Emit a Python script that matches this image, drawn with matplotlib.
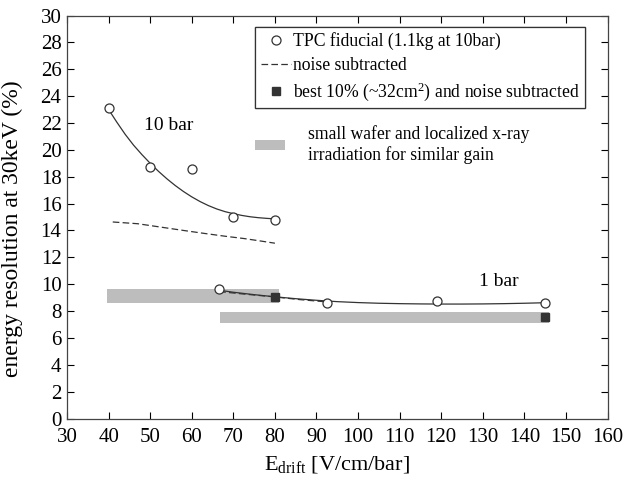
import matplotlib
matplotlib.use("Agg")
import matplotlib.pyplot as plt
from matplotlib.patches import Rectangle
from matplotlib.lines import Line2D

plt.rcParams['font.family'] = ['Liberation Serif', 'DejaVu Serif']
plt.rcParams['mathtext.fontset'] = 'custom'
plt.rcParams['mathtext.rm'] = 'Liberation Serif'
plt.rcParams['mathtext.it'] = 'Liberation Serif:italic'

# --- data ---
# 10 bar: measured points, fit curve, noise subtracted curve
e10_pts = [40, 50, 60, 70, 80]
r10_pts = [23.1, 18.7, 18.6, 15.0, 14.8]
e10_fit = [40, 42, 44, 46, 48, 50, 52, 54, 56, 58, 60,
           62, 64, 66, 68, 70, 72, 74, 76, 78, 80]
r10_fit = [23.0, 22.05, 21.15, 20.35, 19.65, 19.0, 18.4, 17.85, 17.35, 16.9, 16.5,
           16.15, 15.85, 15.6, 15.4, 15.25, 15.12, 15.02, 14.95, 14.9, 14.86]
e10_ns = [41, 47, 52.5, 58, 63, 68, 72.5, 76, 80]
r10_ns = [14.63, 14.5, 14.25, 14.0, 13.78, 13.57, 13.4, 13.24, 13.05]

# 1 bar: measured points, fit curve, noise subtracted
e1_pts = [66.6, 92.5, 119, 145]
r1_pts = [9.64, 8.6, 8.75, 8.6]
e1_fit = [66.6, 70, 75, 80, 85, 90, 95, 100, 105, 110, 115,
          120, 125, 130, 135, 140, 145]
r1_fit = [9.55, 9.4, 9.22, 9.06, 8.92, 8.8, 8.7, 8.63, 8.58, 8.55, 8.53,
          8.52, 8.52, 8.53, 8.55, 8.58, 8.62]
e1_ns = [66.6, 72, 80, 86, 92.5]
r1_ns = [9.45, 9.28, 9.05, 8.85, 8.68]

# best 10% and noise subtracted
e_best = [80, 145]
r_best = [9.07, 7.55]

# small wafer / localized x-ray ranges
wafer_e0 = [39.5, 66.8]
wafer_e1 = [81.0, 146.0]
wafer_r0 = [8.6, 7.1]
wafer_r1 = [9.65, 7.95]

xticks = list(range(30, 161, 10))
yticks = list(range(0, 31, 2))

fig = plt.figure(figsize=(6.24, 4.8), dpi=100)
ax = fig.add_axes([0.1074, 0.1281, 0.8662, 0.8396])

grey = '#bdbdbd'
dark = '#333333'

for a, b, c, d in zip(wafer_e0, wafer_e1, wafer_r0, wafer_r1):
    ax.add_patch(Rectangle((a, c), b - a, d - c, facecolor=grey, edgecolor='none', zorder=1))

ax.plot(e10_fit, r10_fit, color=dark, lw=0.9, zorder=2)
ax.plot(e10_ns, r10_ns, color=dark, lw=0.9, dashes=(5.3, 2.6), zorder=2)
ax.plot(e1_fit, r1_fit, color=dark, lw=0.9, zorder=2)
ax.plot(e1_ns, r1_ns, color=dark, lw=0.9, dashes=(5.3, 2.6), zorder=2)

ax.plot(e10_pts, r10_pts, 'o', ms=6.5, mfc='white', mec=dark, mew=0.9, zorder=3)
ax.plot(e1_pts, r1_pts, 'o', ms=6.5, mfc='white', mec=dark, mew=0.9, zorder=3)
ax.plot(e_best, r_best, 's', ms=5.5, color=dark, zorder=4)

ax.text(54.5, 21.8, '10 bar', fontsize=14, ha='center', va='center')
ax.text(133.8, 10.2, '1 bar', fontsize=14, ha='center', va='center')

ax.set_xlim(30, 160)
ax.set_ylim(0, 30)
ax.set_xticks(xticks)
ax.set_yticks(yticks)
ax.tick_params(direction='in', top=True, right=True, length=5, width=0.8,
               labelsize=15, colors='black')
ax.tick_params(axis='x', pad=7)
ax.tick_params(axis='y', pad=4)
for s in ax.spines.values():
    s.set_linewidth(0.9)
    s.set_color('#444444')

ax.set_xlabel('E$_\\mathrm{drift}$ [V/cm/bar]', fontsize=16, labelpad=5)
ax.set_ylabel('energy resolution at 30keV (%)', fontsize=17, labelpad=4)
ax.yaxis.set_label_coords(-0.082, 0.47)

handles = [
    Line2D([], [], ls='none', marker='o', ms=6.5, mfc='white', mec=dark, mew=0.9),
    Line2D([], [], color=dark, lw=0.9, dashes=(5.3, 2.6)),
    Line2D([], [], ls='none', marker='s', ms=5.5, color=dark),
]
labels = ['TPC fiducial (1.1kg at 10bar)', 'noise subtracted',
          'best 10% (~32cm$^2$) and noise subtracted']
leg = ax.legend(handles, labels, loc='upper left', bbox_to_anchor=(0.3487, 0.972),
                borderaxespad=0, fontsize=12.7, frameon=True, fancybox=False,
                edgecolor='#333333', framealpha=1, handlelength=1.7,
                handletextpad=0.15, labelspacing=0.38, borderpad=0.3)
leg.get_frame().set_linewidth(0.9)
ax.add_artist(leg)

# second (unframed) key for the grey bands
ax.add_patch(Rectangle((0.3487, 0.666), 0.055, 0.026, transform=ax.transAxes,
                       facecolor=grey, edgecolor='none', clip_on=False))
ax.text(0.4465, 0.679, 'small wafer and localized x-ray\nirradiation for similar gain',
        transform=ax.transAxes, fontsize=12.7, ha='left', va='center', linespacing=1.25)

fig.savefig('out.png', dpi=100)
